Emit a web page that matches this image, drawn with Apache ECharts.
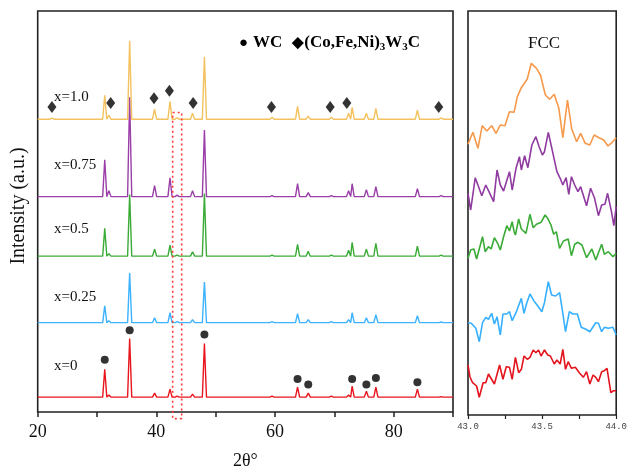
<!DOCTYPE html>
<html>
<head>
<meta charset="utf-8">
<script src="https://cdn.jsdelivr.net/npm/echarts@6/dist/echarts.min.js"></script>
<style>
  html, body { margin: 0; padding: 0; background: #fff; }
  #chart { width: 630px; height: 475px; }
</style>
</head>
<body>
<div id="chart"></div>
<script>
// 2θ positions of the reflections seen in the patterns
const peakPos = [22.4, 31.3, 32.0, 35.5, 39.7, 42.3, 43.5, 46.1, 48.1, 59.5, 63.8, 65.6, 69.5, 72.4, 73.0, 75.4, 77.0, 84.0, 88.0];

// peak heights (a.u.) per sample, same order as peakPos
const hX0   = [0, 28, 2, 59, 4, 8, 1, 3, 54, 1, 10, 4, 1, 2, 11, 6, 10, 8, 0.5];
const hX025 = [0, 17, 2, 50, 5, 10, 1, 3, 41, 1, 9, 3, 1, 3, 10, 5, 8, 7, 0.7];
const hX05  = [0, 28, 2.5, 62, 7, 11, 1, 4.5, 63, 1, 12, 5, 1, 6, 14, 7, 13, 10, 1];
const hX075 = [0, 37, 6, 100, 11, 19, 1.5, 6, 67, 1, 13, 4, 1, 6, 13, 7, 10, 8, 1];
const hX10  = [1, 24, 4, 79, 10, 18, 1.5, 6, 63, 2, 13, 3, 2, 6, 12, 6, 11, 9, 1.3];

const sampleNames = ['x=0', 'x=0.25', 'x=0.5', 'x=0.75', 'x=1.0'];
const offsets = [15, 90, 157, 217, 295];

// phase markers
const wcMarks = [[31.3, 52.7], [35.5, 82.3], [48.1, 78], [63.8, 33.3], [65.6, 27.7], [73.0, 33.3], [75.4, 27.7], [77.0, 34.3], [84.0, 30]];
const m6cMarks = [[22.4, 307.3], [32.3, 311.3], [39.6, 316], [42.2, 323.7], [46.2, 311.3], [59.4, 307.3], [69.3, 307.3], [72.1, 311.3], [87.6, 307.3]];

// zoomed region 43-44°
const boxX = [42.75, 44.27];
const boxY = [301.7, -6.7];

const fccOrange = [[43.000,270.7],[43.033,282.7],[43.067,266.7],[43.096,289.3],[43.127,284],[43.160,289.3],[43.189,281.7],[43.218,290],[43.249,289.3],[43.280,303.3],[43.311,302.7],[43.333,318.3],[43.360,327.3],[43.400,336],[43.427,351.7],[43.462,346.7],[43.489,340],[43.522,320],[43.551,315.7],[43.582,320.7],[43.613,306.7],[43.640,277.3],[43.671,315],[43.700,286],[43.733,273.3],[43.760,281.7],[43.791,271.7],[43.822,270],[43.851,280],[43.884,277.3],[43.916,275],[43.944,269],[43.973,272.7],[44.000,277.3]];
const fccPurple = [[43.000,221.7],[43.018,205],[43.049,237.3],[43.067,230],[43.093,219.3],[43.120,230],[43.147,221.7],[43.173,213.3],[43.196,245],[43.218,230],[43.240,224],[43.280,243.3],[43.298,225],[43.324,246.7],[43.347,258.3],[43.360,245],[43.382,259.3],[43.404,247.3],[43.431,270],[43.458,278.3],[43.480,268.3],[43.502,260],[43.516,263.3],[43.542,282.7],[43.573,261.7],[43.600,243.3],[43.622,236.7],[43.640,230],[43.662,237.3],[43.680,220.7],[43.698,238.3],[43.720,230],[43.742,223.3],[43.760,228.3],[43.800,209.3],[43.827,226.7],[43.853,217.3],[43.880,199.3],[43.902,210],[43.924,210.7],[43.942,221.7],[43.969,202.7],[43.984,189.3],[44.000,208.3]];
const fccGreen = [[43.000,156.7],[43.018,165],[43.040,166],[43.058,156],[43.098,178.3],[43.116,163.3],[43.138,168.3],[43.156,166],[43.178,177.3],[43.200,171.7],[43.218,165],[43.240,178.3],[43.262,189.3],[43.280,184],[43.298,193.3],[43.311,183.3],[43.320,180],[43.342,196],[43.360,186],[43.373,188],[43.391,181.7],[43.418,200.7],[43.440,187.3],[43.462,190.7],[43.493,192.7],[43.520,200],[43.538,196.7],[43.560,190],[43.578,180.7],[43.596,183.3],[43.618,166.7],[43.644,174],[43.676,176],[43.698,159.3],[43.720,170.7],[43.742,172.7],[43.769,170],[43.800,157.3],[43.836,166],[43.862,155],[43.902,170.7],[43.920,160.7],[43.947,163.3],[43.978,158.3],[44.000,161.7]];
const fccBlue = [[43.000,92.3],[43.022,91.7],[43.053,86.7],[43.076,73.3],[43.098,92.3],[43.120,97.7],[43.138,95.7],[43.160,101.7],[43.178,91],[43.196,98.3],[43.218,80],[43.236,101],[43.262,101],[43.280,103.3],[43.298,94.3],[43.324,102.3],[43.360,116.7],[43.378,101.7],[43.396,111.7],[43.418,121],[43.444,114.3],[43.471,109],[43.498,103.3],[43.516,112.3],[43.542,133.3],[43.564,120],[43.591,119],[43.618,122.3],[43.640,101.7],[43.658,83.3],[43.684,103.3],[43.707,101],[43.738,101],[43.764,87.7],[43.796,85.7],[43.822,83.3],[43.862,92.3],[43.880,91.7],[43.902,83.3],[43.920,87.7],[43.947,86.7],[43.978,87.7],[44.000,80]];
const fccRed = [[43.000,50],[43.013,38.3],[43.031,32.3],[43.058,29],[43.076,17.7],[43.102,32.3],[43.120,32.3],[43.138,41],[43.178,31],[43.213,50],[43.236,35.7],[43.258,48.3],[43.280,47.7],[43.298,35.7],[43.320,57.7],[43.342,42.3],[43.360,45.7],[43.378,59],[43.400,55.7],[43.418,57.7],[43.440,65],[43.458,62.3],[43.476,65],[43.493,59],[43.516,65],[43.538,60],[43.556,59],[43.582,51],[43.600,55],[43.622,51],[43.640,65.7],[43.658,45.7],[43.676,53.3],[43.698,46.7],[43.724,47.7],[43.751,42.3],[43.778,37.7],[43.800,43.3],[43.822,31],[43.844,40],[43.862,37.7],[43.880,33.3],[43.902,43.3],[43.920,44.3],[43.938,46.7],[43.964,22.3],[43.982,24.3],[44.000,24.3]];

const serif = 'Liberation Serif, Times New Roman, serif';
const leftColors = ['#e8151c', '#3db2ff', '#3aab36', '#9a3ea8', '#f3c25e'];
const rightColors = ['#e3141d', '#36b0ff', '#3aab36', '#8f3ba0', '#f7994a'];

// pattern polyline: baseline, then foot / top / foot for every peak
function pattern(heights, off) {
  const pts = [[20, off]];
  peakPos.forEach((p, i) => {
    pts.push([p - 0.35, off], [p, off + heights[i]], [p + 0.35, off]);
  });
  pts.push([90, off]);
  return pts;
}

const chart = echarts.init(document.getElementById('chart'));

const patterns = [hX0, hX025, hX05, hX075, hX10];
const fccCurves = [fccRed, fccBlue, fccGreen, fccPurple, fccOrange];

const series = [];
patterns.forEach((h, i) => {
  series.push({
    name: sampleNames[i], type: 'line', xAxisIndex: 0, yAxisIndex: 0,
    data: pattern(h, offsets[i]), showSymbol: false, symbol: 'none',
    lineStyle: { color: leftColors[i], width: 1.4 }
  });
});
fccCurves.forEach((d, i) => {
  series.push({
    name: sampleNames[i] + ' FCC', type: 'line', xAxisIndex: 1, yAxisIndex: 1,
    data: d, showSymbol: false, symbol: 'none',
    lineStyle: { color: rightColors[i], width: 1.6 }
  });
});
series.push({
  type: 'line', xAxisIndex: 0, yAxisIndex: 0, clip: false, z: 5,
  data: [[boxX[0], boxY[0]], [boxX[1], boxY[0]], [boxX[1], boxY[1]], [boxX[0], boxY[1]], [boxX[0], boxY[0]]],
  showSymbol: false, symbol: 'none',
  lineStyle: { color: '#ff3b3b', width: 1.6, type: [2, 3] }
});
series.push({
  type: 'scatter', xAxisIndex: 0, yAxisIndex: 0, data: wcMarks,
  symbol: 'circle', symbolSize: 8, itemStyle: { color: '#000' }, z: 6
});
series.push({
  type: 'scatter', xAxisIndex: 0, yAxisIndex: 0, data: m6cMarks,
  symbol: 'diamond', symbolSize: [9, 12], itemStyle: { color: '#000' }, z: 6
});

const labelY = [366, 297, 229, 165, 97];

chart.setOption({
  animation: false,
  backgroundColor: '#fff',
  title: {
    text: '{d|●} {b|WC}  {d|◆}{b|(Co,Fe,Ni)}{s|3}{b|W}{s|3}{b|C}',
    left: 234, top: 27,
    textStyle: {
      rich: {
        d: { fontSize: 15, color: '#000' },
        b: { fontFamily: serif, fontSize: 17, fontWeight: 'bold', color: '#000' },
        s: { fontFamily: serif, fontSize: 11, fontWeight: 'bold', color: '#000', padding: [10, 0, 0, 0] }
      }
    }
  },
  grid: [
    { left: 37.7, right: 177, top: 11, bottom: 60, show: true, borderColor: '#222', borderWidth: 1.6, backgroundColor: 'transparent' },
    { left: 468, right: 11, top: 11, bottom: 60, show: true, borderColor: '#222', borderWidth: 1.6, backgroundColor: 'transparent' }
  ],
  xAxis: [
    {
      gridIndex: 0, type: 'value', min: 20, max: 90, interval: 10,
      name: '2θ°', nameLocation: 'middle', nameGap: 40,
      nameTextStyle: { fontFamily: serif, fontSize: 18, color: '#111' },
      axisLine: { show: false },
      axisTick: { show: true, length: 5, lineStyle: { color: '#222', width: 1.5 } },
      splitLine: { show: false },
      axisLabel: {
        margin: 11, fontFamily: serif, fontSize: 18, color: '#111',
        formatter: v => (v % 20 === 0 && v < 90) ? String(v) : ''
      }
    },
    {
      gridIndex: 1, type: 'value', min: 43, max: 44, interval: 0.25,
      axisLine: { show: false },
      axisTick: { show: true, length: 4, lineStyle: { color: '#222', width: 1.2 } },
      splitLine: { show: false },
      axisLabel: {
        margin: 7, fontFamily: 'Liberation Mono, monospace', fontSize: 9, color: '#444',
        showMaxLabel: true, showMinLabel: true,
        formatter: v => (Math.round(v * 100) % 50 === 0) ? v.toFixed(1) : ''
      }
    }
  ],
  yAxis: [
    { gridIndex: 0, type: 'value', min: 0, max: 404, show: false },
    { gridIndex: 1, type: 'value', min: 0, max: 404, show: false }
  ],
  graphic: [
    {
      type: 'text', x: 19, y: 206, rotation: Math.PI / 2,
      style: { text: 'Intensity (a.u.)', font: '20px ' + serif, fill: '#111', textAlign: 'center', textVerticalAlign: 'middle' }
    },
    {
      type: 'text', x: 544, y: 44,
      style: { text: 'FCC', font: '17px ' + serif, fill: '#111', textAlign: 'center', textVerticalAlign: 'middle' }
    }
  ].concat(sampleNames.map((n, i) => ({
    type: 'text', x: 54, y: labelY[i],
    style: { text: n, font: '15px ' + serif, fill: '#111', textAlign: 'left', textVerticalAlign: 'middle' }
  }))),
  series: series
});
</script>
</body>
</html>
